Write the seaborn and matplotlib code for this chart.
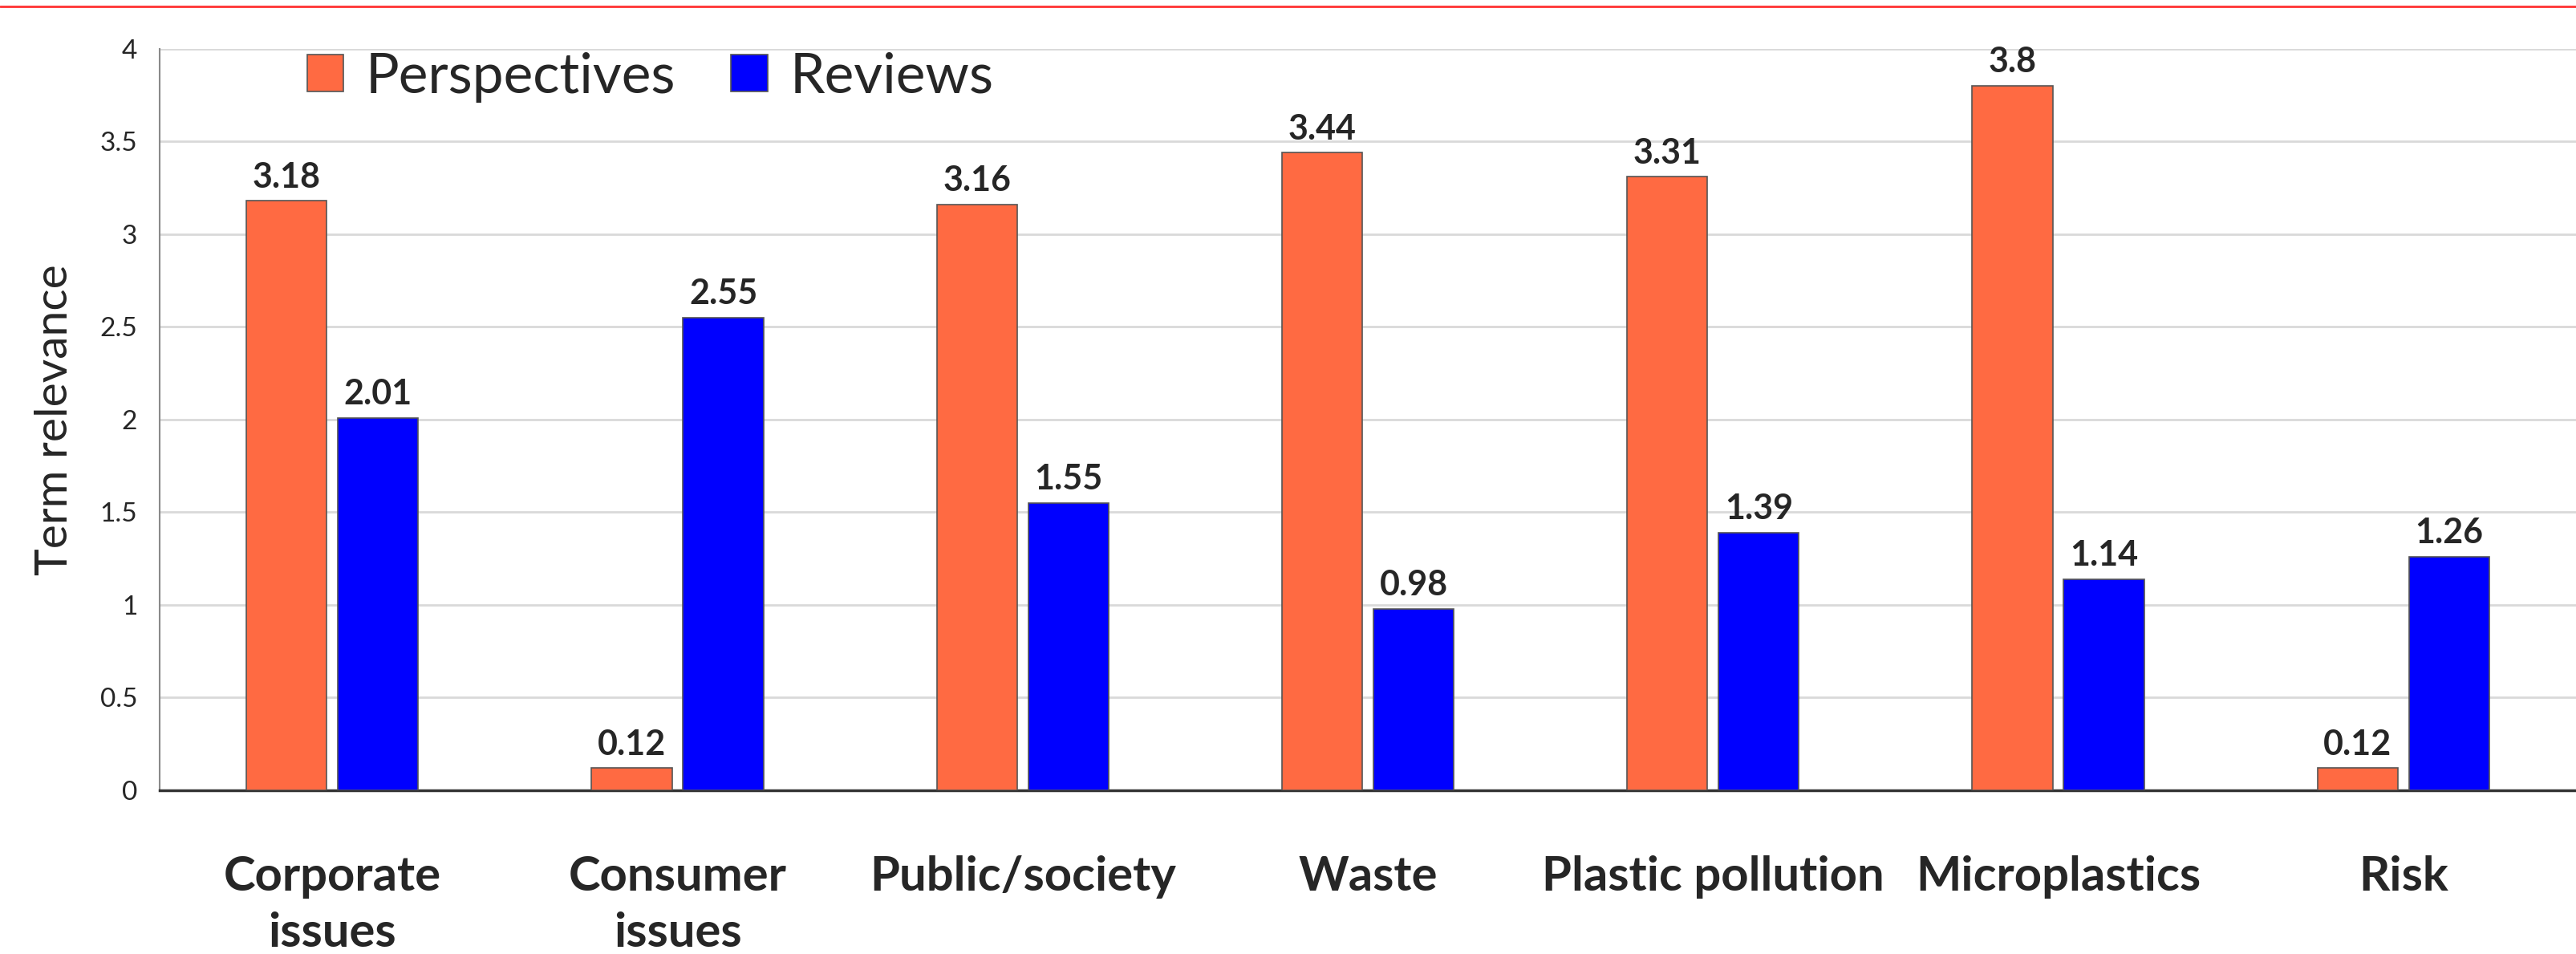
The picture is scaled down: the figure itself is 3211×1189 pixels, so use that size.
import matplotlib
matplotlib.use("Agg")
import matplotlib.pyplot as plt
from matplotlib.lines import Line2D
import pandas as pd
import seaborn as sns

categories = ["Corporate issues", "Consumer issues", "Public/society", "Waste",
              "Plastic pollution", "Microplastics", "Risk"]
tick_labels = ["Corporate\nissues", "Consumer\nissues", "Public/society", "Waste",
               "Plastic pollution", "Microplastics", "Risk"]
perspectives = [3.18, 0.12, 3.16, 3.44, 3.31, 3.8, 0.12]
reviews = [2.01, 2.55, 1.55, 0.98, 1.39, 1.14, 1.26]
series_names = ["Perspectives", "Reviews"]
colors = ["#ff6a42", "#0000ff"]
y_ticks = [0, 0.5, 1, 1.5, 2, 2.5, 3, 3.5, 4]

df = pd.DataFrame({
    "category": categories * 2,
    "value": perspectives + reviews,
    "series": [series_names[0]] * len(categories) + [series_names[1]] * len(categories),
})

sns.set_style("white")
plt.rcParams["font.family"] = ["Lato", "DejaVu Sans"]

fig, ax = plt.subplots(figsize=(32.11, 11.89), dpi=100)
fig.subplots_adjust(left=0.062, right=1.0, top=0.9487, bottom=0.1716)

sns.barplot(data=df, x="category", y="value", hue="series", order=categories,
            hue_order=series_names, palette=colors, width=0.53, gap=0.12,
            edgecolor="#555555", linewidth=1.2, saturation=1, ax=ax, zorder=3)

for cont in ax.containers:
    ax.bar_label(cont, fmt="{:g}", padding=7, fontsize=31, fontweight="bold")

ax.set_xlim(-0.5, len(categories) - 0.5)
ax.set_ylim(0, 4)
ax.set_yticks(y_ticks)
ax.set_yticklabels([f"{t:g}" for t in y_ticks])
ax.yaxis.grid(True, color="#d9d9d9", linewidth=2, zorder=0)
ax.set_axisbelow(True)
ax.set_xticks(range(len(categories)))
ax.set_xticklabels(tick_labels, fontsize=43, fontweight="bold", linespacing=1.38)
ax.tick_params(axis="x", length=0, pad=58)
ax.tick_params(axis="y", length=0, pad=20, labelsize=24)
ax.set_xlabel("")
ax.set_ylabel("Term relevance", fontsize=41, labelpad=22)

for side in ["top", "right"]:
    ax.spines[side].set_visible(False)
ax.spines["left"].set_color("#8a8a8a")
ax.spines["left"].set_linewidth(1.5)
ax.spines["bottom"].set_color("#333333")
ax.spines["bottom"].set_linewidth(2.5)

handles, labels = ax.get_legend_handles_labels()
ax.legend(handles, labels, loc="center", bbox_to_anchor=(0.203, 0.962), ncol=2,
          frameon=False, fontsize=50, handlelength=0.65, handleheight=0.65,
          handletextpad=0.4, columnspacing=1.0)

fig.add_artist(Line2D([0, 1], [1 - 8 / 1189, 1 - 8 / 1189], transform=fig.transFigure,
                      color="#ff3333", linewidth=2))

fig.savefig("out.png", dpi=100)
